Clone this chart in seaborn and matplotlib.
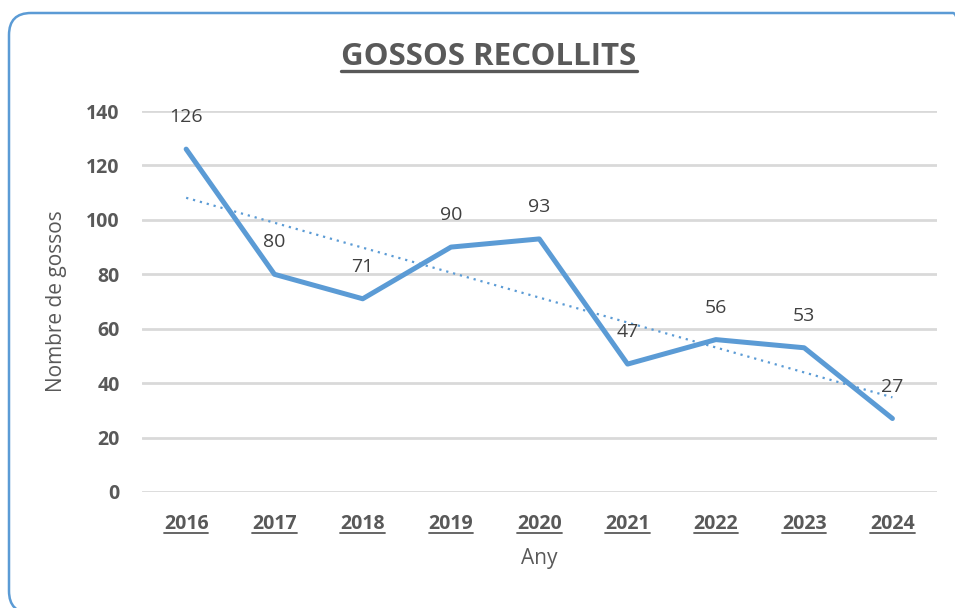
import numpy as np
import pandas as pd
import matplotlib.pyplot as plt
import seaborn as sns
from matplotlib.patches import FancyBboxPatch
from matplotlib.lines import Line2D

# Data
years = ['2016', '2017', '2018', '2019', '2020', '2021', '2022', '2023', '2024']
dogs = [126, 80, 71, 90, 93, 47, 56, 53, 27]

df = pd.DataFrame({'Any': years, 'Gossos': dogs})
df['pos'] = np.arange(len(df))

sns.set_theme(style='white')
plt.rcParams['font.family'] = ['Liberation Sans Narrow', 'Open Sans', 'DejaVu Sans']

GRAY = '#595959'
BLUE = '#5b9bd5'

fig = plt.figure(figsize=(9.55, 6.08), dpi=100)
ax = fig.add_axes([0.1487, 0.1908, 0.832, 0.6266])

# outer rounded frame in inches (runs off the right and bottom edges)
frame = FancyBboxPatch((0.09, -0.05), 9.66, 6.0, transform=fig.dpi_scale_trans,
                       boxstyle='round,pad=0,rounding_size=0.22', fill=False,
                       edgecolor=BLUE, linewidth=1.8, clip_on=False)
fig.add_artist(frame)

sns.lineplot(data=df, x='pos', y='Gossos', ax=ax, color=BLUE, linewidth=3.6,
             solid_capstyle='round', zorder=3)
# linear trendline
sns.regplot(data=df, x='pos', y='Gossos', ax=ax, scatter=False, ci=None,
            line_kws={'color': BLUE, 'linewidth': 1.6, 'linestyle': (0, (1, 2.2))})

for p, v in zip(df['pos'], df['Gossos']):
    ax.annotate(str(v), (p, v), xytext=(0, 23), textcoords='offset points',
                ha='center', va='center', fontsize=14, color='#404040')

ax.set_xlim(-0.5, len(years) - 0.5)
ax.set_ylim(0, 140)
ax.set_yticks(range(0, 141, 20))
ax.set_xticks(df['pos'])
ax.set_xticklabels(years)
ax.yaxis.grid(True, color='#d9d9d9', linewidth=2)
ax.set_axisbelow(True)
for s in ax.spines.values():
    s.set_visible(False)
ax.tick_params(axis='both', length=0, labelsize=14, labelcolor=GRAY)
ax.tick_params(axis='x', pad=16)
ax.tick_params(axis='y', pad=16)
for lab in ax.get_xticklabels() + ax.get_yticklabels():
    lab.set_fontweight('bold')

ax.set_xlabel('Any', fontsize=15, color=GRAY, labelpad=10)
ax.set_ylabel('Nombre de gossos', fontsize=15, color=GRAY, labelpad=14)

title = fig.text(0.512, 0.906, 'GOSSOS RECOLLITS', ha='center', va='center',
                 fontsize=22.5, fontweight='bold', color=GRAY)

# underline title and x tick labels
fig.canvas.draw()
r = fig.canvas.get_renderer()
inv = fig.transFigure.inverted()
for t, lw in [(title, 2.4)] + [(lab, 1.3) for lab in ax.get_xticklabels()]:
    bb = t.get_window_extent(r)
    (x0, y0), (x1, _) = inv.transform([(bb.x0, bb.y0), (bb.x1, bb.y1)])
    fig.add_artist(Line2D([x0, x1], [y0 + 0.002, y0 + 0.002], transform=fig.transFigure,
                          color=GRAY, linewidth=lw))

fig.savefig('out.png', dpi=100)
